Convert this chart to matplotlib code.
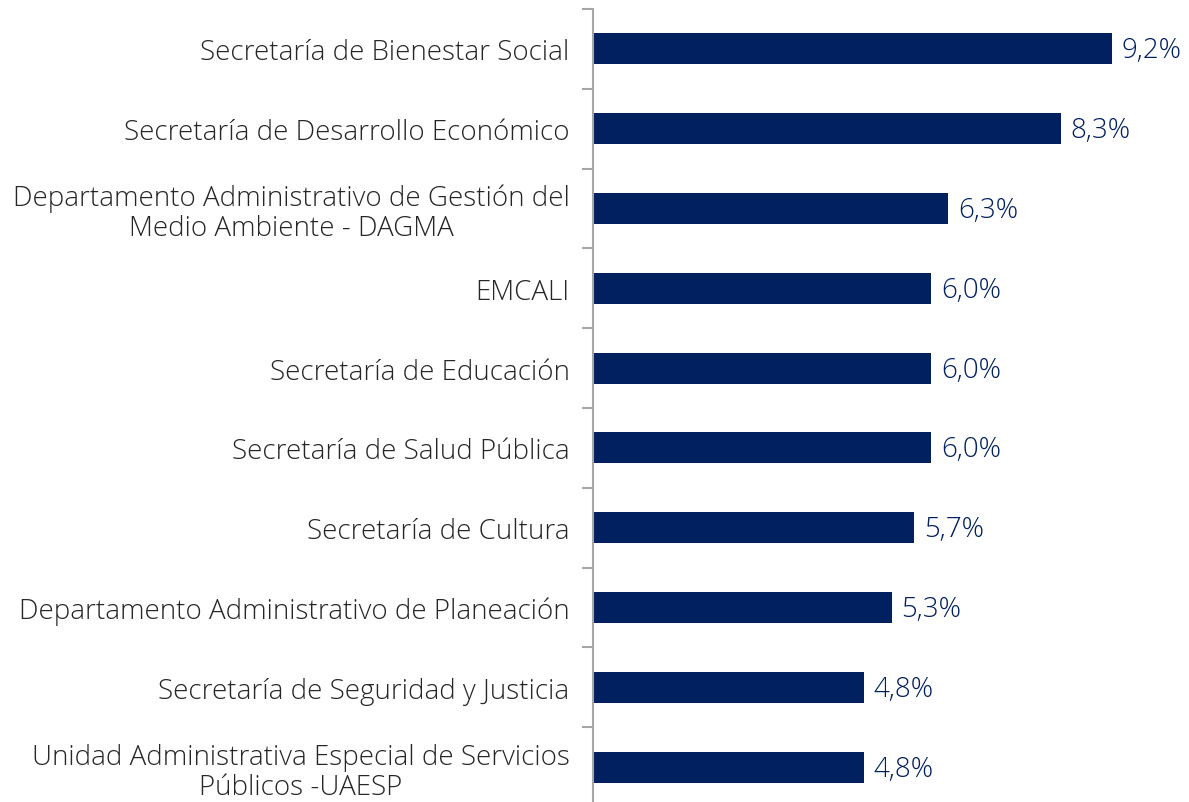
"""
Participación por dependencia - barras horizontales
"""
import numpy as np
import matplotlib
matplotlib.use('Agg')
import matplotlib.pyplot as plt

plt.rcParams['font.family'] = ['Open Sans', 'DejaVu Sans']

# datos
categorias = [
    "Secretaría de Bienestar Social",
    "Secretaría de Desarrollo Económico",
    "Departamento Administrativo de Gestión del\nMedio Ambiente - DAGMA",
    "EMCALI",
    "Secretaría de Educación",
    "Secretaría de Salud Pública",
    "Secretaría de Cultura",
    "Departamento Administrativo de Planeación",
    "Secretaría de Seguridad y Justicia",
    "Unidad Administrativa Especial de Servicios\nPúblicos -UAESP",
]
valores = [9.2, 8.3, 6.3, 6.0, 6.0, 6.0, 5.7, 5.3, 4.8, 4.8]
etiquetas = ["9,2%", "8,3%", "6,3%", "6,0%", "6,0%", "6,0%", "5,7%", "5,3%", "4,8%", "4,8%"]

color_barra = '#002060'
color_eje = '#a6a6a6'

fig = plt.figure(figsize=(11.89, 8.03), dpi=100)
# ejes ubicados para coincidir con la imagen
ax = fig.add_axes([593 / 1189, -5 / 803, 1 - 593 / 1189, 798 / 803])

y = np.arange(len(categorias))
ax.barh(y, valores, height=0.39, color=color_barra)

for yi, v, txt in zip(y, valores, etiquetas):
    ax.text(v + 0.17, yi + 0.02, txt, va='center', ha='left', fontsize=20,
            color=color_barra, fontweight='light')

ax.set_ylim(len(categorias) - 0.5, -0.5)
ax.set_xlim(0, (1189 - 593) / 56.4)

ax.set_yticks(y)
ax.set_yticklabels(categorias, fontsize=20, color='#262626', fontweight='light',
                   multialignment='center', linespacing=1.1)
ax.set_yticks(np.arange(-0.5, len(categorias), 1), minor=True)
ax.tick_params(axis='y', which='major', length=0, pad=17)
ax.tick_params(axis='y', which='minor', length=8, width=1.5, color=color_eje)
ax.set_xticks([])

for s in ['top', 'right', 'bottom']:
    ax.spines[s].set_visible(False)
ax.spines['left'].set_color(color_eje)
ax.spines['left'].set_linewidth(1.5)

fig.savefig('out.png', dpi=100)
